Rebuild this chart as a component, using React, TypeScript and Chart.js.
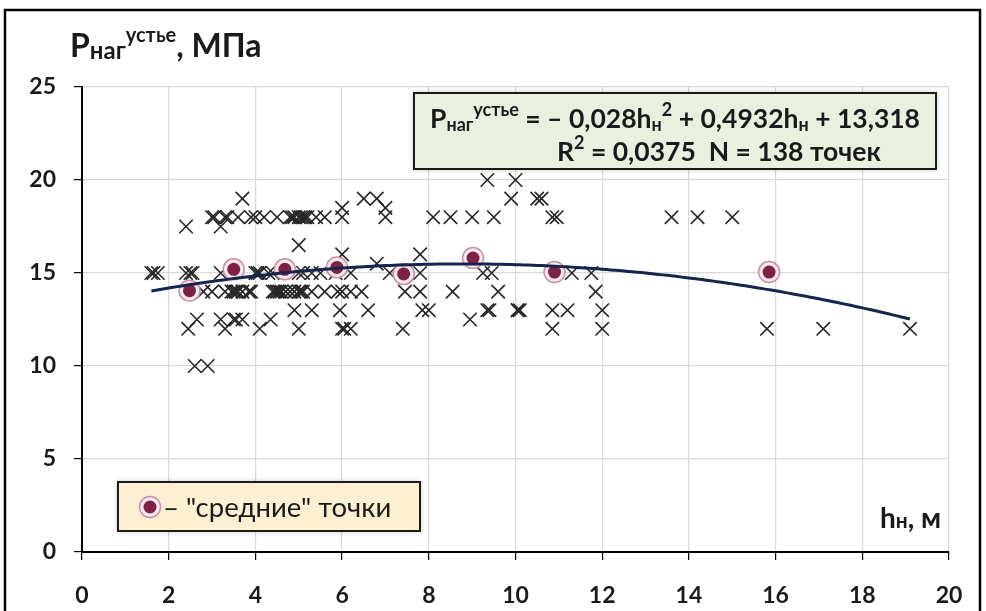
import React, { useEffect, useRef } from "react";
import { Chart, registerables } from "chart.js";

Chart.register(...registerables);

const FONT = 'Lato, "Open Sans", "DejaVu Sans", sans-serif';

// Давление нагнетания на устье (МПа) по уровням и глубины h_н (м) скважин на каждом уровне
const pressureLevels = [20, 19, 18.5, 18, 17.5, 16.5, 16, 15.5, 15, 14, 13, 12.5, 12, 10];
const depthAt20 = [9.35, 10.0];
const depthAt19 = [3.7, 6.5, 6.8, 9.9, 10.5, 10.6];
const depthAt18_5 = [6.0, 7.0];
const depthAt18 = [
  3.0, 3.05, 3.3, 3.35, 3.6, 3.9, 4.0, 4.2, 4.5, 4.8, 4.85, 4.9, 5.0, 5.05, 5.1,
  5.15, 5.2, 5.4, 5.6, 6.0, 7.0, 8.1, 8.5, 9.0, 9.5, 10.85, 10.95, 13.6, 14.2, 15.0,
];
const depthAt17_5 = [2.4, 3.2];
const depthAt16_5 = [5.0];
const depthAt16 = [6.0, 7.8];
const depthAt15_5 = [6.8];
const depthAt15 = [
  1.6, 1.65, 1.75, 2.4, 2.5, 2.55, 3.2, 4.0, 4.05, 4.1, 4.3, 4.4, 5.0, 5.1, 5.3,
  5.5, 5.85, 6.2, 7.1, 7.8, 9.25, 9.45, 11.3, 11.75,
];
const depthAt14 = [
  2.8, 3.0, 3.3, 3.45, 3.5, 3.55, 3.6, 3.7, 3.85, 3.9, 4.4, 4.45, 4.5, 4.55, 4.6,
  4.7, 4.8, 4.9, 5.0, 5.05, 5.1, 5.3, 5.6, 5.9, 6.0, 6.2, 6.45, 7.45, 7.8, 8.55,
  9.6, 11.85,
];
const depthAt13 = [4.9, 5.3, 5.95, 6.6, 7.85, 8.0, 9.35, 9.4, 10.05, 10.05, 10.1, 10.85, 11.2, 12.0];
const depthAt12_5 = [2.65, 3.2, 3.5, 3.55, 3.7, 4.35, 8.95];
const depthAt12 = [2.45, 3.3, 4.1, 5.0, 6.0, 6.05, 6.2, 7.4, 10.85, 12.0, 15.8, 17.1, 19.1];
const depthAt10 = [2.6, 2.9];
const depthsByLevel = [
  depthAt20, depthAt19, depthAt18_5, depthAt18, depthAt17_5, depthAt16_5, depthAt16,
  depthAt15_5, depthAt15, depthAt14, depthAt13, depthAt12_5, depthAt12, depthAt10,
];

// "средние" точки
const meanDepth = [2.48, 3.5, 4.68, 5.88, 7.42, 9.02, 10.9, 15.85];
const meanPressure = [14.05, 15.2, 15.2, 15.3, 14.95, 15.8, 15.05, 15.05];

// Полиномиальный тренд 2-й степени
const trendA = -0.028;
const trendB = 0.4932;
const trendC = 13.318;
const trendFrom = 1.6;
const trendTo = 19.1;

// Оси
const xMin = 0, xMax = 20, xStep = 2;
const yMin = 0, yMax = 25, yStep = 5;

type Kind = "n" | "sub" | "sup";
type Run = [string, Kind];
interface RichStyle {
  weight: string;
  size: number;
  sub: number;
  sup: number;
  subDy: number;
  supDy: number;
}

function drawRich(ctx: CanvasRenderingContext2D, runs: Run[], x: number, baseline: number, st: RichStyle) {
  let cx = x;
  for (const [text, kind] of runs) {
    const size = kind === "n" ? st.size : kind === "sub" ? st.sub : st.sup;
    const dy = kind === "n" ? 0 : kind === "sub" ? st.subDy : st.supDy;
    ctx.font = `${st.weight} ${size}px ${FONT}`;
    ctx.fillText(text, cx, baseline + dy);
    cx += ctx.measureText(text).width;
  }
  return cx;
}

function drawBox(ctx: CanvasRenderingContext2D, x: number, y: number, w: number, h: number, fill: string) {
  ctx.save();
  ctx.shadowColor = "rgba(0,0,0,0.28)";
  ctx.shadowBlur = 6;
  ctx.fillStyle = fill;
  ctx.fillRect(x, y, w, h);
  ctx.restore();
  ctx.save();
  ctx.strokeStyle = "#1a1a1a";
  ctx.lineWidth = 2;
  ctx.strokeRect(x, y, w, h);
  ctx.restore();
}

const decorPlugin = {
  id: "decor",
  beforeDraw(chart: Chart) {
    const ctx = chart.ctx;
    ctx.save();
    ctx.fillStyle = "#ffffff";
    ctx.fillRect(0, 0, chart.width, chart.height);
    ctx.restore();
  },
  afterDraw(chart: Chart) {
    const ctx = chart.ctx;
    ctx.save();
    ctx.textAlign = "left";
    ctx.textBaseline = "alphabetic";
    ctx.fillStyle = "#1a1a1a";

    // внешняя рамка
    ctx.strokeStyle = "#000";
    ctx.lineWidth = 2.5;
    ctx.strokeRect(5, 10, 975, 640);

    // заголовок оси Y
    drawRich(
      ctx,
      [["P", "n"], ["наг", "sub"], ["устье", "sup"], [", МПа", "n"]],
      70,
      57,
      { weight: "bold", size: 32, sub: 24, sup: 20, subDy: 2, supDy: -15 }
    );

    // уравнение тренда
    drawBox(ctx, 414, 93, 522, 76, "#e9f1de");
    ctx.fillStyle = "#1a1a1a";
    const eqStyle: RichStyle = { weight: "bold", size: 26.5, sub: 18, sup: 18, subDy: 3, supDy: -12 };
    drawRich(
      ctx,
      [
        ["P", "n"], ["наг", "sub"], ["устье", "sup"], [" = – 0,028h", "n"], ["н", "sub"], ["2", "sup"],
        [" + 0,4932h", "n"], ["н", "sub"], [" + 13,318", "n"],
      ],
      430,
      128,
      eqStyle
    );
    drawRich(ctx, [["R", "n"], ["2", "sup"], [" = 0,0375  N = 138 точек", "n"]], 557, 161, eqStyle);

    // условное обозначение
    drawBox(ctx, 118, 482, 302, 49, "#fdf0d2");
    ctx.beginPath();
    ctx.arc(150, 507, 10.5, 0, Math.PI * 2);
    ctx.fillStyle = "#f7e9ef";
    ctx.fill();
    ctx.strokeStyle = "#c990a6";
    ctx.lineWidth = 1.5;
    ctx.stroke();
    ctx.beginPath();
    ctx.arc(150, 507, 6.5, 0, Math.PI * 2);
    ctx.fillStyle = "#7d2147";
    ctx.fill();
    ctx.fillStyle = "#1a1a1a";
    ctx.font = `normal 27.5px ${FONT}`;
    ctx.fillText('– "средние" точки', 163, 517);

    // заголовок оси X
    drawRich(ctx, [["h", "n"], ["н", "sub"], [", м", "n"]], 880, 528, {
      weight: "bold", size: 28, sub: 21, sup: 21, subDy: 0, supDy: 0,
    });
    ctx.restore();
  },
};

export default function App() {
  const ref = useRef<HTMLCanvasElement | null>(null);

  useEffect(() => {
    document.body.style.margin = "0";
    const canvas = ref.current;
    if (!canvas) return;

    const points: { x: number; y: number }[] = [];
    pressureLevels.forEach((p, i) => depthsByLevel[i].forEach((h) => points.push({ x: h, y: p })));

    const means = meanDepth.map((h, i) => ({ x: h, y: meanPressure[i] }));

    const trend: { x: number; y: number }[] = [];
    for (let h = trendFrom; h <= trendTo + 1e-9; h += 0.1) {
      trend.push({ x: h, y: trendA * h * h + trendB * h + trendC });
    }

    const tickFont = { family: FONT, size: 23, weight: "bold" as const };

    const chart = new Chart(canvas, {
      type: "scatter",
      data: {
        datasets: [
          {
            label: "скважины",
            data: points,
            pointStyle: "crossRot",
            pointRadius: 9.5,
            borderColor: "#262626",
            backgroundColor: "transparent",
            borderWidth: 1.6,
            order: 3,
          },
          {
            label: "средние (кольцо)",
            data: means,
            pointStyle: "circle",
            pointRadius: 10.5,
            backgroundColor: "#f7e9ef",
            borderColor: "#c990a6",
            borderWidth: 1.5,
            order: 2,
          },
          {
            label: "средние",
            data: means,
            pointStyle: "circle",
            pointRadius: 6.5,
            backgroundColor: "#7d2147",
            borderWidth: 0,
            order: 1,
          },
          {
            label: "тренд",
            data: trend,
            showLine: true,
            pointRadius: 0,
            borderColor: "#15254f",
            borderWidth: 3,
            fill: false,
            order: 0,
          },
        ],
      },
      options: {
        responsive: false,
        animation: false,
        events: [],
        layout: { padding: { top: 87, right: 37, left: 0, bottom: 0 } },
        plugins: { legend: { display: false }, tooltip: { enabled: false }, title: { display: false } },
        scales: {
          x: {
            type: "linear",
            min: xMin,
            max: xMax,
            ticks: { stepSize: xStep, font: tickFont, color: "#1a1a1a", padding: 22 },
            grid: { color: "#d9d9d9", lineWidth: 1.2, tickColor: "#000", tickLength: 8 },
            border: { color: "#000", width: 2 },
            afterFit: (s: any) => {
              s.height = 59;
            },
          },
          y: {
            type: "linear",
            min: yMin,
            max: yMax,
            ticks: { stepSize: yStep, font: tickFont, color: "#1a1a1a", padding: 18 },
            grid: { color: "#d9d9d9", lineWidth: 1.2, tickColor: "#000", tickLength: 8 },
            border: { color: "#000", width: 2 },
            afterFit: (s: any) => {
              s.width = 82;
            },
          },
        },
      },
      plugins: [decorPlugin],
    });

    return () => chart.destroy();
  }, []);

  return (
    <div style={{ width: 986, height: 611 }}>
      <canvas ref={ref} width={986} height={611} style={{ display: "block" }} />
    </div>
  );
}
